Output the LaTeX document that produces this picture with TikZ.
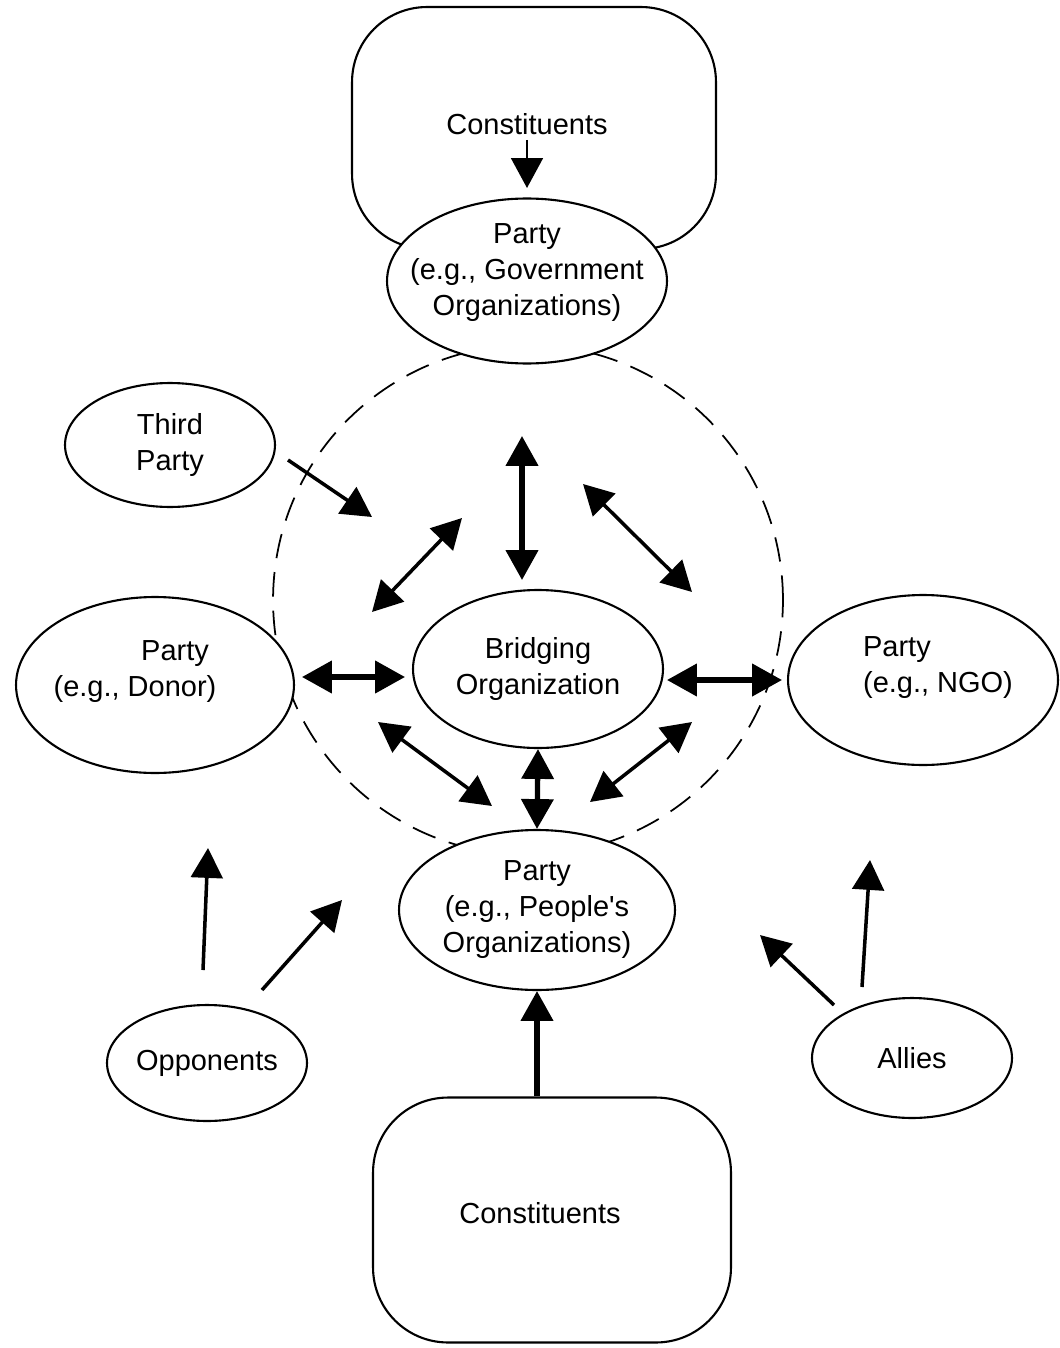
\documentclass[tikz,border=0pt]{standalone}
\usepackage{fontspec}
\setmainfont{Liberation Sans}
\usetikzlibrary{shapes.geometric,arrows.meta}

\begin{document}
\begin{tikzpicture}[
x=0.02cm,y=-0.02cm,
every node/.style={align=center,font=\fontsize{16.5}{20.5}\selectfont},
party/.style={ellipse,draw,fill=white,line width=1.2pt,inner sep=0pt},
constbox/.style={draw,fill=white,rounded corners=1.5cm,line width=1.2pt},
link/.style={line width=2pt,-{Triangle[length=17pt,width=18pt]}},
dlink/.style={line width=2pt,{Triangle[length=17pt,width=18pt]}-{Triangle[length=17pt,width=18pt]}},
bold/.style={line width=3pt}
]
\useasboundingbox (0,0) rectangle (1059,1348);

% circle of the bridging organization
\draw[line width=1pt,dash pattern=on 14pt off 8pt] (528,600) circle[radius=5.1cm];

\node[constbox,minimum width=7.28cm,minimum height=4.84cm] (topcon) at (534,128) {};
\node[constbox,minimum width=7.16cm,minimum height=4.9cm] (botcon) at (552,1220) {};
\node (topcontext) at (527,124) {Constituents};
\node (botcontext) at (540,1213) {Constituents};

\node[party,minimum width=5.6cm,minimum height=3.3cm,
  label={[yshift=0.16cm]center:{Party\\(e.g., Government\\Organizations)}}] (gov) at (527,281) {};
\node[party,minimum width=4.2cm,minimum height=2.48cm,
  label=center:{Third\\Party}] (third) at (170,445) {};
\node[party,minimum width=5.56cm,minimum height=3.52cm,
  label={[xshift=-0.4cm,yshift=0.26cm]center:{\hspace*{1.6cm}Party\\(e.g., Donor)}}] (donor) at (155,685) {};
\node[party,minimum width=5cm,minimum height=3.16cm,
  label=center:{Bridging\\Organization}] (bridge) at (538,669) {};
\node[party,minimum width=5.4cm,minimum height=3.4cm,
  label={[align=left,xshift=0.3cm,yshift=0.24cm]center:{Party\\(e.g., NGO)}}] (ngo) at (923,680) {};
\node[party,minimum width=5.52cm,minimum height=3.2cm,
  label=center:{Party\\(e.g., People\textquotesingle s\\Organizations)}] (people) at (537,910) {};
\node[party,minimum width=4cm,minimum height=2.32cm,
  label=center:{Opponents}] (opp) at (207,1063) {};
\node[party,minimum width=4cm,minimum height=2.4cm,
  label=center:{Allies}] (allies) at (912,1058) {};

% free ends of the arrows
\coordinate (topA) at (527,140);
\coordinate (topB) at (527,188);
\coordinate (thirdA) at (288,460);
\coordinate (thirdB) at (372,517);
\coordinate (ulA) at (372,612);
\coordinate (ulB) at (462,518);
\coordinate (upA) at (522,436);
\coordinate (upB) at (522,580);
\coordinate (urA) at (583,484);
\coordinate (urB) at (692,592);
\coordinate (leftA) at (302,677);
\coordinate (leftB) at (405,677);
\coordinate (rightA) at (667,680);
\coordinate (rightB) at (782,680);
\coordinate (llA) at (378,722);
\coordinate (llB) at (492,806);
\coordinate (lrA) at (692,722);
\coordinate (lrB) at (590,802);
\coordinate (oppA) at (203,970);
\coordinate (oppB) at (208,848);
\coordinate (oppC) at (262,990);
\coordinate (oppD) at (342,900);
\coordinate (alA) at (834,1005);
\coordinate (alB) at (760,935);
\coordinate (alC) at (862,987);
\coordinate (alD) at (870,860);

\draw[link,line width=1.5pt] (topA) -- (topB);
\draw[link] (thirdA) -- (thirdB);
\draw[dlink] (ulA) -- (ulB);
\draw[dlink,bold] (upA) -- (upB);
\draw[dlink] (urA) -- (urB);
\draw[dlink,bold] (leftA) -- (leftB);
\draw[dlink,bold] (rightA) -- (rightB);
\draw[dlink] (llA) -- (llB);
\draw[dlink] (lrA) -- (lrB);
\draw[dlink,bold] (bridge.south) -- (people.north);
\draw[link] (oppA) -- (oppB);
\draw[link] (oppC) -- (oppD);
\draw[link] (alA) -- (alB);
\draw[link] (alC) -- (alD);
\draw[link,bold] (botcon.north -| people.south) -- (people.south);
\end{tikzpicture}
\end{document}
